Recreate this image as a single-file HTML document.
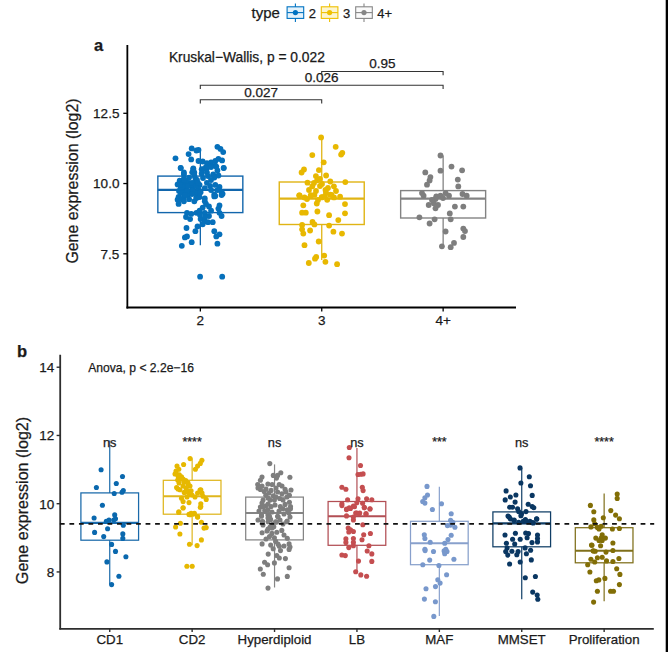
<!DOCTYPE html>
<html><head><meta charset="utf-8"><style>
html,body{margin:0;padding:0;background:#fff;}
svg{display:block;}
text{font-family:"Liberation Sans",sans-serif;stroke:#1a1a1a;stroke-width:0.25px;}
</style></head><body>
<svg width="668" height="652" viewBox="0 0 668 652">
<rect width="668" height="652" fill="#fff"/>
<text x="251.60" y="18.30" font-size="15" text-anchor="start" fill="#1a1a1a" >type</text>
<line x1="295.40" y1="3.60" x2="295.40" y2="22.00" stroke="#0073C2" stroke-width="1.1" />
<rect x="287.10" y="6.80" width="16.60" height="11.60" fill="#e4f2fb" stroke="#0073C2" stroke-width="1.1"/>
<line x1="287.10" y1="12.60" x2="303.70" y2="12.60" stroke="#0073C2" stroke-width="1.1" />
<circle cx="295.4" cy="12.6" r="2.6" fill="#0073C2"/>
<text x="308.70" y="17.90" font-size="13.0" text-anchor="start" fill="#1a1a1a" >2</text>
<line x1="329.60" y1="3.60" x2="329.60" y2="22.00" stroke="#EFC000" stroke-width="1.1" />
<rect x="321.30" y="6.80" width="16.60" height="11.60" fill="#fcf5cf" stroke="#EFC000" stroke-width="1.1"/>
<line x1="321.30" y1="12.60" x2="337.90" y2="12.60" stroke="#EFC000" stroke-width="1.1" />
<circle cx="329.6" cy="12.6" r="2.6" fill="#EFC000"/>
<text x="342.90" y="17.90" font-size="13.0" text-anchor="start" fill="#1a1a1a" >3</text>
<line x1="364.00" y1="3.60" x2="364.00" y2="22.00" stroke="#868686" stroke-width="1.1" />
<rect x="355.70" y="6.80" width="16.60" height="11.60" fill="#fafafa" stroke="#868686" stroke-width="1.1"/>
<line x1="355.70" y1="12.60" x2="372.30" y2="12.60" stroke="#868686" stroke-width="1.1" />
<circle cx="364.0" cy="12.6" r="2.6" fill="#868686"/>
<text x="377.30" y="17.90" font-size="13.0" text-anchor="start" fill="#1a1a1a" >4+</text>
<text x="94.00" y="50.50" font-size="16.5" text-anchor="start" fill="#1a1a1a" font-weight="bold">a</text>
<line x1="127.35" y1="45.00" x2="127.35" y2="308.40" stroke="#000" stroke-width="1.8" />
<line x1="126.45" y1="307.50" x2="516.00" y2="307.50" stroke="#000" stroke-width="1.8" />
<line x1="123.30" y1="113.30" x2="127.50" y2="113.30" stroke="#000" stroke-width="1.3" />
<text x="119.40" y="118.20" font-size="13.5" text-anchor="end" fill="#1a1a1a" >12.5</text>
<line x1="123.30" y1="183.55" x2="127.50" y2="183.55" stroke="#000" stroke-width="1.3" />
<text x="119.40" y="188.45" font-size="13.5" text-anchor="end" fill="#1a1a1a" >10.0</text>
<line x1="123.30" y1="253.80" x2="127.50" y2="253.80" stroke="#000" stroke-width="1.3" />
<text x="119.40" y="258.70" font-size="13.5" text-anchor="end" fill="#1a1a1a" >7.5</text>
<line x1="200.34" y1="307.50" x2="200.34" y2="311.50" stroke="#000" stroke-width="1.3" />
<text x="200.34" y="325.20" font-size="13.5" text-anchor="middle" fill="#1a1a1a" >2</text>
<line x1="321.74" y1="307.50" x2="321.74" y2="311.50" stroke="#000" stroke-width="1.3" />
<text x="321.74" y="325.20" font-size="13.5" text-anchor="middle" fill="#1a1a1a" >3</text>
<line x1="443.14" y1="307.50" x2="443.14" y2="311.50" stroke="#000" stroke-width="1.3" />
<text x="443.14" y="325.20" font-size="13.5" text-anchor="middle" fill="#1a1a1a" >4+</text>
<text transform="translate(78.0,181) rotate(-90)" font-size="15.9" text-anchor="middle" fill="#1a1a1a">Gene expression (log2)</text>
<text x="168.90" y="62.20" font-size="13.8" text-anchor="start" fill="#1a1a1a" >Kruskal−Wallis, p = 0.022</text>
<polyline points="200.3,103.5 200.3,99.7 321.7,99.7 321.7,103.5" fill="none" stroke="#333" stroke-width="1.1"/>
<text x="261.04" y="96.50" font-size="13.5" text-anchor="middle" fill="#1a1a1a" >0.027</text>
<polyline points="200.3,89.0 200.3,85.2 443.1,85.2 443.1,89.0" fill="none" stroke="#333" stroke-width="1.1"/>
<text x="321.74" y="81.80" font-size="13.5" text-anchor="middle" fill="#1a1a1a" >0.026</text>
<polyline points="321.7,75.3 321.7,71.5 443.1,71.5 443.1,75.3" fill="none" stroke="#333" stroke-width="1.1"/>
<text x="382.44" y="68.10" font-size="13.5" text-anchor="middle" fill="#1a1a1a" >0.95</text>
<line x1="200.34" y1="148.40" x2="200.34" y2="176.10" stroke="#1266AC" stroke-width="1.3" />
<line x1="200.34" y1="212.60" x2="200.34" y2="245.30" stroke="#1266AC" stroke-width="1.3" />
<rect x="157.85" y="176.10" width="84.98" height="36.50" fill="none" stroke="#1266AC" stroke-width="1.4"/>
<line x1="157.85" y1="189.90" x2="242.83" y2="189.90" stroke="#1266AC" stroke-width="2.3" />
<line x1="321.74" y1="137.40" x2="321.74" y2="182.00" stroke="#E0B414" stroke-width="1.3" />
<line x1="321.74" y1="224.50" x2="321.74" y2="260.00" stroke="#E0B414" stroke-width="1.3" />
<rect x="279.25" y="182.00" width="84.98" height="42.50" fill="none" stroke="#E0B414" stroke-width="1.4"/>
<line x1="279.25" y1="198.60" x2="364.23" y2="198.60" stroke="#E0B414" stroke-width="2.3" />
<line x1="443.14" y1="155.50" x2="443.14" y2="190.60" stroke="#838383" stroke-width="1.3" />
<line x1="443.14" y1="218.00" x2="443.14" y2="247.20" stroke="#838383" stroke-width="1.3" />
<rect x="400.65" y="190.60" width="84.98" height="27.40" fill="none" stroke="#838383" stroke-width="1.4"/>
<line x1="400.65" y1="198.70" x2="485.63" y2="198.70" stroke="#838383" stroke-width="2.3" />
<circle cx="191.7" cy="148.4" r="2.9" fill="#0670BB"/>
<circle cx="196.4" cy="150.5" r="2.9" fill="#0670BB"/>
<circle cx="198.5" cy="150.0" r="2.9" fill="#0670BB"/>
<circle cx="188.6" cy="154.1" r="2.9" fill="#0670BB"/>
<circle cx="191.2" cy="159.4" r="2.9" fill="#0670BB"/>
<circle cx="175.5" cy="158.3" r="2.9" fill="#0670BB"/>
<circle cx="217.4" cy="146.8" r="2.9" fill="#0670BB"/>
<circle cx="220.5" cy="148.9" r="2.9" fill="#0670BB"/>
<circle cx="223.2" cy="152.1" r="2.9" fill="#0670BB"/>
<circle cx="198.5" cy="161.0" r="2.9" fill="#0670BB"/>
<circle cx="202.7" cy="161.5" r="2.9" fill="#0670BB"/>
<circle cx="206.9" cy="163.1" r="2.9" fill="#0670BB"/>
<circle cx="211.1" cy="162.5" r="2.9" fill="#0670BB"/>
<circle cx="215.3" cy="161.0" r="2.9" fill="#0670BB"/>
<circle cx="218.4" cy="158.9" r="2.9" fill="#0670BB"/>
<circle cx="222.1" cy="160.4" r="2.9" fill="#0670BB"/>
<circle cx="215.3" cy="165.7" r="2.9" fill="#0670BB"/>
<circle cx="210.1" cy="166.2" r="2.9" fill="#0670BB"/>
<circle cx="205.9" cy="167.2" r="2.9" fill="#0670BB"/>
<circle cx="223.7" cy="167.8" r="2.9" fill="#0670BB"/>
<circle cx="180.7" cy="167.8" r="2.9" fill="#0670BB"/>
<circle cx="193.3" cy="168.3" r="2.9" fill="#0670BB"/>
<circle cx="201.7" cy="169.3" r="2.9" fill="#0670BB"/>
<circle cx="217.4" cy="170.4" r="2.9" fill="#0670BB"/>
<circle cx="183.9" cy="172.5" r="2.9" fill="#0670BB"/>
<circle cx="194.3" cy="172.5" r="2.9" fill="#0670BB"/>
<circle cx="180.7" cy="168.1" r="2.9" fill="#0670BB"/>
<circle cx="193.3" cy="169.2" r="2.9" fill="#0670BB"/>
<circle cx="202.7" cy="169.2" r="2.9" fill="#0670BB"/>
<circle cx="206.9" cy="168.1" r="2.9" fill="#0670BB"/>
<circle cx="211.1" cy="167.1" r="2.9" fill="#0670BB"/>
<circle cx="216.3" cy="166.6" r="2.9" fill="#0670BB"/>
<circle cx="223.7" cy="168.1" r="2.9" fill="#0670BB"/>
<circle cx="201.7" cy="173.4" r="2.9" fill="#0670BB"/>
<circle cx="206.9" cy="172.3" r="2.9" fill="#0670BB"/>
<circle cx="213.2" cy="174.4" r="2.9" fill="#0670BB"/>
<circle cx="218.4" cy="175.5" r="2.9" fill="#0670BB"/>
<circle cx="214.3" cy="177.6" r="2.9" fill="#0670BB"/>
<circle cx="183.9" cy="174.4" r="2.9" fill="#0670BB"/>
<circle cx="192.2" cy="172.3" r="2.9" fill="#0670BB"/>
<circle cx="194.3" cy="175.5" r="2.9" fill="#0670BB"/>
<circle cx="179.7" cy="180.7" r="2.9" fill="#0670BB"/>
<circle cx="183.9" cy="178.6" r="2.9" fill="#0670BB"/>
<circle cx="189.1" cy="177.6" r="2.9" fill="#0670BB"/>
<circle cx="195.4" cy="178.6" r="2.9" fill="#0670BB"/>
<circle cx="177.6" cy="184.4" r="2.9" fill="#0670BB"/>
<circle cx="182.8" cy="183.9" r="2.9" fill="#0670BB"/>
<circle cx="189.1" cy="182.8" r="2.9" fill="#0670BB"/>
<circle cx="194.3" cy="182.8" r="2.9" fill="#0670BB"/>
<circle cx="199.6" cy="184.9" r="2.9" fill="#0670BB"/>
<circle cx="206.9" cy="182.8" r="2.9" fill="#0670BB"/>
<circle cx="210.1" cy="186.0" r="2.9" fill="#0670BB"/>
<circle cx="215.3" cy="184.9" r="2.9" fill="#0670BB"/>
<circle cx="219.5" cy="187.0" r="2.9" fill="#0670BB"/>
<circle cx="180.7" cy="188.1" r="2.9" fill="#0670BB"/>
<circle cx="186.0" cy="189.1" r="2.9" fill="#0670BB"/>
<circle cx="192.2" cy="188.1" r="2.9" fill="#0670BB"/>
<circle cx="198.5" cy="189.1" r="2.9" fill="#0670BB"/>
<circle cx="204.8" cy="188.1" r="2.9" fill="#0670BB"/>
<circle cx="211.1" cy="190.1" r="2.9" fill="#0670BB"/>
<circle cx="217.4" cy="190.1" r="2.9" fill="#0670BB"/>
<circle cx="221.6" cy="192.2" r="2.9" fill="#0670BB"/>
<circle cx="183.9" cy="192.2" r="2.9" fill="#0670BB"/>
<circle cx="190.1" cy="192.2" r="2.9" fill="#0670BB"/>
<circle cx="196.4" cy="193.3" r="2.9" fill="#0670BB"/>
<circle cx="200.6" cy="192.2" r="2.9" fill="#0670BB"/>
<circle cx="214.3" cy="194.3" r="2.9" fill="#0670BB"/>
<circle cx="222.6" cy="193.8" r="2.9" fill="#0670BB"/>
<circle cx="178.6" cy="197.0" r="2.9" fill="#0670BB"/>
<circle cx="183.9" cy="197.5" r="2.9" fill="#0670BB"/>
<circle cx="196.4" cy="197.5" r="2.9" fill="#0670BB"/>
<circle cx="204.8" cy="198.5" r="2.9" fill="#0670BB"/>
<circle cx="214.3" cy="196.4" r="2.9" fill="#0670BB"/>
<circle cx="186.0" cy="181.0" r="2.9" fill="#0670BB"/>
<circle cx="191.0" cy="185.0" r="2.9" fill="#0670BB"/>
<circle cx="197.0" cy="180.0" r="2.9" fill="#0670BB"/>
<circle cx="185.0" cy="186.0" r="2.9" fill="#0670BB"/>
<circle cx="179.0" cy="191.0" r="2.9" fill="#0670BB"/>
<circle cx="188.0" cy="195.0" r="2.9" fill="#0670BB"/>
<circle cx="193.0" cy="190.0" r="2.9" fill="#0670BB"/>
<circle cx="203.0" cy="178.0" r="2.9" fill="#0670BB"/>
<circle cx="208.0" cy="176.0" r="2.9" fill="#0670BB"/>
<circle cx="211.0" cy="180.0" r="2.9" fill="#0670BB"/>
<circle cx="177.6" cy="199.7" r="2.9" fill="#0670BB"/>
<circle cx="181.8" cy="199.2" r="2.9" fill="#0670BB"/>
<circle cx="183.9" cy="201.3" r="2.9" fill="#0670BB"/>
<circle cx="178.6" cy="203.9" r="2.9" fill="#0670BB"/>
<circle cx="189.1" cy="199.2" r="2.9" fill="#0670BB"/>
<circle cx="194.3" cy="201.3" r="2.9" fill="#0670BB"/>
<circle cx="196.4" cy="198.1" r="2.9" fill="#0670BB"/>
<circle cx="199.6" cy="197.1" r="2.9" fill="#0670BB"/>
<circle cx="204.8" cy="201.3" r="2.9" fill="#0670BB"/>
<circle cx="215.3" cy="196.0" r="2.9" fill="#0670BB"/>
<circle cx="221.6" cy="195.0" r="2.9" fill="#0670BB"/>
<circle cx="219.5" cy="205.5" r="2.9" fill="#0670BB"/>
<circle cx="218.4" cy="208.6" r="2.9" fill="#0670BB"/>
<circle cx="221.6" cy="216.0" r="2.9" fill="#0670BB"/>
<circle cx="219.5" cy="212.8" r="2.9" fill="#0670BB"/>
<circle cx="202.7" cy="207.6" r="2.9" fill="#0670BB"/>
<circle cx="209.0" cy="206.5" r="2.9" fill="#0670BB"/>
<circle cx="211.1" cy="210.7" r="2.9" fill="#0670BB"/>
<circle cx="187.0" cy="212.8" r="2.9" fill="#0670BB"/>
<circle cx="191.2" cy="213.9" r="2.9" fill="#0670BB"/>
<circle cx="196.4" cy="212.8" r="2.9" fill="#0670BB"/>
<circle cx="199.6" cy="210.7" r="2.9" fill="#0670BB"/>
<circle cx="204.8" cy="212.8" r="2.9" fill="#0670BB"/>
<circle cx="209.0" cy="216.0" r="2.9" fill="#0670BB"/>
<circle cx="186.0" cy="217.0" r="2.9" fill="#0670BB"/>
<circle cx="190.1" cy="219.1" r="2.9" fill="#0670BB"/>
<circle cx="200.6" cy="219.1" r="2.9" fill="#0670BB"/>
<circle cx="204.8" cy="221.2" r="2.9" fill="#0670BB"/>
<circle cx="208.0" cy="222.2" r="2.9" fill="#0670BB"/>
<circle cx="212.7" cy="222.2" r="2.9" fill="#0670BB"/>
<circle cx="202.7" cy="224.3" r="2.9" fill="#0670BB"/>
<circle cx="197.5" cy="226.4" r="2.9" fill="#0670BB"/>
<circle cx="195.4" cy="231.2" r="2.9" fill="#0670BB"/>
<circle cx="186.5" cy="228.0" r="2.9" fill="#0670BB"/>
<circle cx="214.3" cy="231.2" r="2.9" fill="#0670BB"/>
<circle cx="219.5" cy="234.3" r="2.9" fill="#0670BB"/>
<circle cx="216.3" cy="236.4" r="2.9" fill="#0670BB"/>
<circle cx="184.9" cy="237.4" r="2.9" fill="#0670BB"/>
<circle cx="187.0" cy="236.4" r="2.9" fill="#0670BB"/>
<circle cx="191.7" cy="242.2" r="2.9" fill="#0670BB"/>
<circle cx="181.8" cy="245.8" r="2.9" fill="#0670BB"/>
<circle cx="217.4" cy="243.7" r="2.9" fill="#0670BB"/>
<circle cx="200.1" cy="276.7" r="2.9" fill="#0670BB"/>
<circle cx="222.2" cy="276.7" r="2.9" fill="#0670BB"/>
<circle cx="206.0" cy="204.0" r="2.9" fill="#0670BB"/>
<circle cx="200.0" cy="215.0" r="2.9" fill="#0670BB"/>
<circle cx="205.0" cy="217.0" r="2.9" fill="#0670BB"/>
<circle cx="184.0" cy="180.0" r="2.9" fill="#0670BB"/>
<circle cx="188.0" cy="186.0" r="2.9" fill="#0670BB"/>
<circle cx="192.0" cy="183.0" r="2.9" fill="#0670BB"/>
<circle cx="196.0" cy="186.0" r="2.9" fill="#0670BB"/>
<circle cx="182.0" cy="187.0" r="2.9" fill="#0670BB"/>
<circle cx="187.0" cy="191.0" r="2.9" fill="#0670BB"/>
<circle cx="181.0" cy="193.0" r="2.9" fill="#0670BB"/>
<circle cx="192.0" cy="194.0" r="2.9" fill="#0670BB"/>
<circle cx="198.0" cy="183.0" r="2.9" fill="#0670BB"/>
<circle cx="180.0" cy="185.0" r="2.9" fill="#0670BB"/>
<circle cx="185.0" cy="195.0" r="2.9" fill="#0670BB"/>
<circle cx="321.1" cy="137.4" r="2.9" fill="#E8B800"/>
<circle cx="335.7" cy="146.8" r="2.9" fill="#E8B800"/>
<circle cx="342.3" cy="152.8" r="2.9" fill="#E8B800"/>
<circle cx="341.1" cy="154.6" r="2.9" fill="#E8B800"/>
<circle cx="312.3" cy="155.1" r="2.9" fill="#E8B800"/>
<circle cx="323.7" cy="162.3" r="2.9" fill="#E8B800"/>
<circle cx="304.0" cy="169.5" r="2.9" fill="#E8B800"/>
<circle cx="301.6" cy="172.5" r="2.9" fill="#E8B800"/>
<circle cx="318.9" cy="170.1" r="2.9" fill="#E8B800"/>
<circle cx="315.9" cy="176.1" r="2.9" fill="#E8B800"/>
<circle cx="326.1" cy="175.5" r="2.9" fill="#E8B800"/>
<circle cx="345.3" cy="182.1" r="2.9" fill="#E8B800"/>
<circle cx="307.5" cy="182.7" r="2.9" fill="#E8B800"/>
<circle cx="312.3" cy="186.3" r="2.9" fill="#E8B800"/>
<circle cx="317.1" cy="180.3" r="2.9" fill="#E8B800"/>
<circle cx="330.3" cy="181.5" r="2.9" fill="#E8B800"/>
<circle cx="333.9" cy="186.3" r="2.9" fill="#E8B800"/>
<circle cx="325.5" cy="189.9" r="2.9" fill="#E8B800"/>
<circle cx="299.2" cy="195.3" r="2.9" fill="#E8B800"/>
<circle cx="311.1" cy="195.3" r="2.9" fill="#E8B800"/>
<circle cx="330.3" cy="194.7" r="2.9" fill="#E8B800"/>
<circle cx="321.9" cy="197.1" r="2.9" fill="#E8B800"/>
<circle cx="299.6" cy="195.5" r="2.9" fill="#E8B800"/>
<circle cx="304.5" cy="197.4" r="2.9" fill="#E8B800"/>
<circle cx="310.7" cy="195.5" r="2.9" fill="#E8B800"/>
<circle cx="314.4" cy="194.9" r="2.9" fill="#E8B800"/>
<circle cx="321.7" cy="197.4" r="2.9" fill="#E8B800"/>
<circle cx="326.0" cy="192.5" r="2.9" fill="#E8B800"/>
<circle cx="327.2" cy="199.8" r="2.9" fill="#E8B800"/>
<circle cx="331.5" cy="194.9" r="2.9" fill="#E8B800"/>
<circle cx="334.0" cy="197.4" r="2.9" fill="#E8B800"/>
<circle cx="340.1" cy="196.7" r="2.9" fill="#E8B800"/>
<circle cx="303.3" cy="205.3" r="2.9" fill="#E8B800"/>
<circle cx="316.8" cy="203.5" r="2.9" fill="#E8B800"/>
<circle cx="345.0" cy="204.1" r="2.9" fill="#E8B800"/>
<circle cx="302.1" cy="212.7" r="2.9" fill="#E8B800"/>
<circle cx="305.8" cy="212.7" r="2.9" fill="#E8B800"/>
<circle cx="317.4" cy="211.5" r="2.9" fill="#E8B800"/>
<circle cx="329.1" cy="215.2" r="2.9" fill="#E8B800"/>
<circle cx="345.0" cy="213.3" r="2.9" fill="#E8B800"/>
<circle cx="338.3" cy="220.1" r="2.9" fill="#E8B800"/>
<circle cx="312.5" cy="221.9" r="2.9" fill="#E8B800"/>
<circle cx="314.4" cy="224.4" r="2.9" fill="#E8B800"/>
<circle cx="302.1" cy="225.0" r="2.9" fill="#E8B800"/>
<circle cx="302.1" cy="229.3" r="2.9" fill="#E8B800"/>
<circle cx="303.3" cy="233.6" r="2.9" fill="#E8B800"/>
<circle cx="310.1" cy="230.5" r="2.9" fill="#E8B800"/>
<circle cx="329.1" cy="225.6" r="2.9" fill="#E8B800"/>
<circle cx="333.4" cy="231.7" r="2.9" fill="#E8B800"/>
<circle cx="342.0" cy="233.6" r="2.9" fill="#E8B800"/>
<circle cx="318.7" cy="241.5" r="2.9" fill="#E8B800"/>
<circle cx="304.5" cy="245.2" r="2.9" fill="#E8B800"/>
<circle cx="316.2" cy="256.9" r="2.9" fill="#E8B800"/>
<circle cx="315.0" cy="258.7" r="2.9" fill="#E8B800"/>
<circle cx="324.2" cy="255.6" r="2.9" fill="#E8B800"/>
<circle cx="325.4" cy="261.8" r="2.9" fill="#E8B800"/>
<circle cx="308.8" cy="263.0" r="2.9" fill="#E8B800"/>
<circle cx="337.1" cy="264.2" r="2.9" fill="#E8B800"/>
<circle cx="314.0" cy="183.0" r="2.9" fill="#E8B800"/>
<circle cx="320.0" cy="186.0" r="2.9" fill="#E8B800"/>
<circle cx="309.0" cy="190.0" r="2.9" fill="#E8B800"/>
<circle cx="316.0" cy="191.0" r="2.9" fill="#E8B800"/>
<circle cx="322.0" cy="184.0" r="2.9" fill="#E8B800"/>
<circle cx="328.0" cy="188.0" r="2.9" fill="#E8B800"/>
<circle cx="320.0" cy="179.0" r="2.9" fill="#E8B800"/>
<circle cx="336.0" cy="191.0" r="2.9" fill="#E8B800"/>
<circle cx="307.0" cy="199.0" r="2.9" fill="#E8B800"/>
<circle cx="318.0" cy="200.0" r="2.9" fill="#E8B800"/>
<circle cx="325.0" cy="196.0" r="2.9" fill="#E8B800"/>
<circle cx="440.5" cy="155.5" r="2.9" fill="#7E7E7E"/>
<circle cx="451.5" cy="166.6" r="2.9" fill="#7E7E7E"/>
<circle cx="462.1" cy="170.3" r="2.9" fill="#7E7E7E"/>
<circle cx="440.5" cy="170.7" r="2.9" fill="#7E7E7E"/>
<circle cx="425.3" cy="172.4" r="2.9" fill="#7E7E7E"/>
<circle cx="430.4" cy="177.1" r="2.9" fill="#7E7E7E"/>
<circle cx="429.6" cy="180.5" r="2.9" fill="#7E7E7E"/>
<circle cx="427.0" cy="184.7" r="2.9" fill="#7E7E7E"/>
<circle cx="457.8" cy="179.6" r="2.9" fill="#7E7E7E"/>
<circle cx="458.3" cy="186.4" r="2.9" fill="#7E7E7E"/>
<circle cx="422.0" cy="193.1" r="2.9" fill="#7E7E7E"/>
<circle cx="423.6" cy="195.7" r="2.9" fill="#7E7E7E"/>
<circle cx="436.3" cy="196.5" r="2.9" fill="#7E7E7E"/>
<circle cx="440.5" cy="195.7" r="2.9" fill="#7E7E7E"/>
<circle cx="445.6" cy="193.1" r="2.9" fill="#7E7E7E"/>
<circle cx="449.0" cy="195.7" r="2.9" fill="#7E7E7E"/>
<circle cx="462.5" cy="194.0" r="2.9" fill="#7E7E7E"/>
<circle cx="466.7" cy="195.7" r="2.9" fill="#7E7E7E"/>
<circle cx="435.5" cy="199.0" r="2.9" fill="#7E7E7E"/>
<circle cx="428.7" cy="205.0" r="2.9" fill="#7E7E7E"/>
<circle cx="433.8" cy="203.3" r="2.9" fill="#7E7E7E"/>
<circle cx="438.0" cy="205.0" r="2.9" fill="#7E7E7E"/>
<circle cx="435.5" cy="208.3" r="2.9" fill="#7E7E7E"/>
<circle cx="454.9" cy="206.6" r="2.9" fill="#7E7E7E"/>
<circle cx="463.3" cy="206.6" r="2.9" fill="#7E7E7E"/>
<circle cx="449.8" cy="213.4" r="2.9" fill="#7E7E7E"/>
<circle cx="450.7" cy="219.3" r="2.9" fill="#7E7E7E"/>
<circle cx="419.4" cy="217.3" r="2.9" fill="#7E7E7E"/>
<circle cx="434.6" cy="219.3" r="2.9" fill="#7E7E7E"/>
<circle cx="429.6" cy="223.5" r="2.9" fill="#7E7E7E"/>
<circle cx="445.6" cy="231.5" r="2.9" fill="#7E7E7E"/>
<circle cx="463.3" cy="228.6" r="2.9" fill="#7E7E7E"/>
<circle cx="465.0" cy="231.1" r="2.9" fill="#7E7E7E"/>
<circle cx="463.3" cy="237.0" r="2.9" fill="#7E7E7E"/>
<circle cx="454.0" cy="242.9" r="2.9" fill="#7E7E7E"/>
<circle cx="450.7" cy="247.2" r="2.9" fill="#7E7E7E"/>
<circle cx="441.9" cy="246.3" r="2.9" fill="#7E7E7E"/>
<circle cx="432.0" cy="200.0" r="2.9" fill="#7E7E7E"/>
<circle cx="443.0" cy="198.0" r="2.9" fill="#7E7E7E"/>
<text x="17.00" y="357.20" font-size="16.5" text-anchor="start" fill="#1a1a1a" font-weight="bold">b</text>
<line x1="60.20" y1="354.70" x2="60.20" y2="629.60" stroke="#2e2e2e" stroke-width="1.8" />
<line x1="59.30" y1="628.80" x2="653.80" y2="628.80" stroke="#2e2e2e" stroke-width="1.8" />
<line x1="56.60" y1="367.22" x2="60.20" y2="367.22" stroke="#2e2e2e" stroke-width="1.4" />
<text x="54.20" y="372.02" font-size="13.5" text-anchor="end" fill="#1a1a1a" >14</text>
<line x1="56.60" y1="435.46" x2="60.20" y2="435.46" stroke="#2e2e2e" stroke-width="1.4" />
<text x="54.20" y="440.26" font-size="13.5" text-anchor="end" fill="#1a1a1a" >12</text>
<line x1="56.60" y1="503.70" x2="60.20" y2="503.70" stroke="#2e2e2e" stroke-width="1.4" />
<text x="54.20" y="508.50" font-size="13.5" text-anchor="end" fill="#1a1a1a" >10</text>
<line x1="56.60" y1="571.94" x2="60.20" y2="571.94" stroke="#2e2e2e" stroke-width="1.4" />
<text x="54.20" y="576.74" font-size="13.5" text-anchor="end" fill="#1a1a1a" >8</text>
<text transform="translate(27.9,500.5) rotate(-90)" font-size="16.1" text-anchor="middle" fill="#1a1a1a">Gene expression (log2)</text>
<text x="88.30" y="372.20" font-size="12.1" text-anchor="start" fill="#1a1a1a" >Anova, p &lt; 2.2e−16</text>
<line x1="109.74" y1="440.40" x2="109.74" y2="492.90" stroke="#1A6AAA" stroke-width="1.2" />
<line x1="109.74" y1="540.20" x2="109.74" y2="584.10" stroke="#1A6AAA" stroke-width="1.2" />
<rect x="80.90" y="492.90" width="57.68" height="47.30" fill="none" stroke="#1A6AAA" stroke-width="1.25"/>
<line x1="80.90" y1="522.90" x2="138.58" y2="522.90" stroke="#1A6AAA" stroke-width="2.1" />
<circle cx="101.1" cy="469.7" r="2.55" fill="#0A68AE"/>
<circle cx="122.5" cy="476.5" r="2.55" fill="#0A68AE"/>
<circle cx="116.3" cy="483.5" r="2.55" fill="#0A68AE"/>
<circle cx="96.4" cy="487.5" r="2.55" fill="#0A68AE"/>
<circle cx="114.2" cy="493.5" r="2.55" fill="#0A68AE"/>
<circle cx="123.3" cy="490.6" r="2.55" fill="#0A68AE"/>
<circle cx="122.0" cy="492.2" r="2.55" fill="#0A68AE"/>
<circle cx="102.4" cy="505.2" r="2.55" fill="#0A68AE"/>
<circle cx="94.1" cy="518.0" r="2.55" fill="#0A68AE"/>
<circle cx="114.7" cy="514.9" r="2.55" fill="#0A68AE"/>
<circle cx="109.0" cy="520.1" r="2.55" fill="#0A68AE"/>
<circle cx="113.7" cy="520.1" r="2.55" fill="#0A68AE"/>
<circle cx="115.5" cy="518.8" r="2.55" fill="#0A68AE"/>
<circle cx="106.3" cy="521.4" r="2.55" fill="#0A68AE"/>
<circle cx="123.3" cy="525.3" r="2.55" fill="#0A68AE"/>
<circle cx="107.6" cy="528.7" r="2.55" fill="#0A68AE"/>
<circle cx="94.6" cy="532.4" r="2.55" fill="#0A68AE"/>
<circle cx="103.7" cy="536.6" r="2.55" fill="#0A68AE"/>
<circle cx="122.8" cy="533.9" r="2.55" fill="#0A68AE"/>
<circle cx="122.8" cy="538.4" r="2.55" fill="#0A68AE"/>
<circle cx="111.6" cy="544.4" r="2.55" fill="#0A68AE"/>
<circle cx="115.5" cy="551.4" r="2.55" fill="#0A68AE"/>
<circle cx="125.9" cy="556.7" r="2.55" fill="#0A68AE"/>
<circle cx="106.9" cy="561.9" r="2.55" fill="#0A68AE"/>
<circle cx="118.9" cy="576.3" r="2.55" fill="#0A68AE"/>
<circle cx="111.6" cy="584.6" r="2.55" fill="#0A68AE"/>
<line x1="109.74" y1="628.80" x2="109.74" y2="632.00" stroke="#2e2e2e" stroke-width="1.4" />
<text x="109.74" y="644.30" font-size="13.3" text-anchor="middle" fill="#1a1a1a" >CD1</text>
<line x1="192.14" y1="458.60" x2="192.14" y2="480.30" stroke="#DFB61E" stroke-width="1.2" />
<line x1="192.14" y1="514.20" x2="192.14" y2="545.30" stroke="#DFB61E" stroke-width="1.2" />
<rect x="163.30" y="480.30" width="57.68" height="33.90" fill="none" stroke="#DFB61E" stroke-width="1.25"/>
<line x1="163.30" y1="496.20" x2="220.98" y2="496.20" stroke="#DFB61E" stroke-width="2.1" />
<circle cx="190.1" cy="458.6" r="2.55" fill="#E6B800"/>
<circle cx="201.9" cy="460.2" r="2.55" fill="#E6B800"/>
<circle cx="200.3" cy="463.4" r="2.55" fill="#E6B800"/>
<circle cx="183.6" cy="464.5" r="2.55" fill="#E6B800"/>
<circle cx="197.6" cy="466.1" r="2.55" fill="#E6B800"/>
<circle cx="195.4" cy="469.3" r="2.55" fill="#E6B800"/>
<circle cx="178.8" cy="469.3" r="2.55" fill="#E6B800"/>
<circle cx="176.1" cy="473.1" r="2.55" fill="#E6B800"/>
<circle cx="179.3" cy="474.7" r="2.55" fill="#E6B800"/>
<circle cx="181.5" cy="476.9" r="2.55" fill="#E6B800"/>
<circle cx="183.1" cy="479.0" r="2.55" fill="#E6B800"/>
<circle cx="185.8" cy="480.6" r="2.55" fill="#E6B800"/>
<circle cx="187.9" cy="482.8" r="2.55" fill="#E6B800"/>
<circle cx="177.7" cy="480.1" r="2.55" fill="#E6B800"/>
<circle cx="176.6" cy="487.6" r="2.55" fill="#E6B800"/>
<circle cx="179.9" cy="489.7" r="2.55" fill="#E6B800"/>
<circle cx="184.2" cy="492.4" r="2.55" fill="#E6B800"/>
<circle cx="187.9" cy="490.8" r="2.55" fill="#E6B800"/>
<circle cx="191.1" cy="490.8" r="2.55" fill="#E6B800"/>
<circle cx="189.5" cy="494.0" r="2.55" fill="#E6B800"/>
<circle cx="200.8" cy="489.7" r="2.55" fill="#E6B800"/>
<circle cx="197.6" cy="493.0" r="2.55" fill="#E6B800"/>
<circle cx="203.0" cy="496.2" r="2.55" fill="#E6B800"/>
<circle cx="206.2" cy="499.4" r="2.55" fill="#E6B800"/>
<circle cx="181.5" cy="498.3" r="2.55" fill="#E6B800"/>
<circle cx="183.1" cy="501.6" r="2.55" fill="#E6B800"/>
<circle cx="189.0" cy="502.6" r="2.55" fill="#E6B800"/>
<circle cx="200.8" cy="503.7" r="2.55" fill="#E6B800"/>
<circle cx="200.3" cy="507.5" r="2.55" fill="#E6B800"/>
<circle cx="183.1" cy="508.0" r="2.55" fill="#E6B800"/>
<circle cx="178.8" cy="511.8" r="2.55" fill="#E6B800"/>
<circle cx="191.1" cy="513.4" r="2.55" fill="#E6B800"/>
<circle cx="194.4" cy="513.4" r="2.55" fill="#E6B800"/>
<circle cx="197.6" cy="517.1" r="2.55" fill="#E6B800"/>
<circle cx="189.0" cy="514.4" r="2.55" fill="#E6B800"/>
<circle cx="183.1" cy="507.7" r="2.55" fill="#E6B800"/>
<circle cx="200.8" cy="506.6" r="2.55" fill="#E6B800"/>
<circle cx="178.8" cy="512.5" r="2.55" fill="#E6B800"/>
<circle cx="190.1" cy="514.7" r="2.55" fill="#E6B800"/>
<circle cx="193.3" cy="514.1" r="2.55" fill="#E6B800"/>
<circle cx="197.6" cy="516.8" r="2.55" fill="#E6B800"/>
<circle cx="180.4" cy="523.3" r="2.55" fill="#E6B800"/>
<circle cx="175.6" cy="527.0" r="2.55" fill="#E6B800"/>
<circle cx="201.4" cy="522.2" r="2.55" fill="#E6B800"/>
<circle cx="204.0" cy="528.1" r="2.55" fill="#E6B800"/>
<circle cx="206.2" cy="527.6" r="2.55" fill="#E6B800"/>
<circle cx="179.9" cy="534.0" r="2.55" fill="#E6B800"/>
<circle cx="201.4" cy="539.9" r="2.55" fill="#E6B800"/>
<circle cx="189.5" cy="544.2" r="2.55" fill="#E6B800"/>
<circle cx="197.1" cy="545.6" r="2.55" fill="#E6B800"/>
<circle cx="186.9" cy="566.2" r="2.55" fill="#E6B800"/>
<circle cx="192.2" cy="566.2" r="2.55" fill="#E6B800"/>
<circle cx="176.0" cy="471.0" r="2.55" fill="#E6B800"/>
<circle cx="178.0" cy="476.0" r="2.55" fill="#E6B800"/>
<circle cx="181.0" cy="479.0" r="2.55" fill="#E6B800"/>
<circle cx="184.0" cy="482.0" r="2.55" fill="#E6B800"/>
<circle cx="188.0" cy="484.0" r="2.55" fill="#E6B800"/>
<circle cx="190.0" cy="486.0" r="2.55" fill="#E6B800"/>
<circle cx="179.0" cy="483.0" r="2.55" fill="#E6B800"/>
<circle cx="183.0" cy="486.0" r="2.55" fill="#E6B800"/>
<circle cx="186.0" cy="488.0" r="2.55" fill="#E6B800"/>
<circle cx="177.0" cy="466.0" r="2.55" fill="#E6B800"/>
<circle cx="175.0" cy="474.0" r="2.55" fill="#E6B800"/>
<circle cx="178.0" cy="489.0" r="2.55" fill="#E6B800"/>
<circle cx="186.0" cy="492.0" r="2.55" fill="#E6B800"/>
<circle cx="192.0" cy="495.0" r="2.55" fill="#E6B800"/>
<circle cx="200.0" cy="490.0" r="2.55" fill="#E6B800"/>
<circle cx="195.0" cy="497.0" r="2.55" fill="#E6B800"/>
<circle cx="187.0" cy="497.0" r="2.55" fill="#E6B800"/>
<circle cx="202.0" cy="493.0" r="2.55" fill="#E6B800"/>
<line x1="192.14" y1="628.80" x2="192.14" y2="632.00" stroke="#2e2e2e" stroke-width="1.4" />
<text x="192.14" y="644.30" font-size="13.3" text-anchor="middle" fill="#1a1a1a" >CD2</text>
<line x1="274.54" y1="464.40" x2="274.54" y2="497.10" stroke="#858585" stroke-width="1.2" />
<line x1="274.54" y1="539.90" x2="274.54" y2="587.50" stroke="#858585" stroke-width="1.2" />
<rect x="245.70" y="497.10" width="57.68" height="42.80" fill="none" stroke="#858585" stroke-width="1.25"/>
<line x1="245.70" y1="513.00" x2="303.38" y2="513.00" stroke="#858585" stroke-width="2.1" />
<circle cx="269.8" cy="463.6" r="2.55" fill="#7E7E7E"/>
<circle cx="280.8" cy="472.7" r="2.55" fill="#7E7E7E"/>
<circle cx="277.6" cy="475.4" r="2.55" fill="#7E7E7E"/>
<circle cx="273.3" cy="475.4" r="2.55" fill="#7E7E7E"/>
<circle cx="276.5" cy="478.1" r="2.55" fill="#7E7E7E"/>
<circle cx="289.9" cy="477.3" r="2.55" fill="#7E7E7E"/>
<circle cx="262.0" cy="477.0" r="2.55" fill="#7E7E7E"/>
<circle cx="260.4" cy="480.2" r="2.55" fill="#7E7E7E"/>
<circle cx="257.7" cy="484.5" r="2.55" fill="#7E7E7E"/>
<circle cx="267.9" cy="484.0" r="2.55" fill="#7E7E7E"/>
<circle cx="272.2" cy="484.5" r="2.55" fill="#7E7E7E"/>
<circle cx="279.2" cy="484.5" r="2.55" fill="#7E7E7E"/>
<circle cx="260.4" cy="489.4" r="2.55" fill="#7E7E7E"/>
<circle cx="264.2" cy="491.5" r="2.55" fill="#7E7E7E"/>
<circle cx="271.1" cy="490.4" r="2.55" fill="#7E7E7E"/>
<circle cx="277.6" cy="492.0" r="2.55" fill="#7E7E7E"/>
<circle cx="285.1" cy="489.4" r="2.55" fill="#7E7E7E"/>
<circle cx="281.9" cy="493.7" r="2.55" fill="#7E7E7E"/>
<circle cx="289.4" cy="495.3" r="2.55" fill="#7E7E7E"/>
<circle cx="265.8" cy="495.3" r="2.55" fill="#7E7E7E"/>
<circle cx="273.3" cy="495.8" r="2.55" fill="#7E7E7E"/>
<circle cx="279.7" cy="498.5" r="2.55" fill="#7E7E7E"/>
<circle cx="263.1" cy="500.1" r="2.55" fill="#7E7E7E"/>
<circle cx="270.1" cy="500.1" r="2.55" fill="#7E7E7E"/>
<circle cx="274.4" cy="500.1" r="2.55" fill="#7E7E7E"/>
<circle cx="289.4" cy="502.2" r="2.55" fill="#7E7E7E"/>
<circle cx="285.1" cy="504.4" r="2.55" fill="#7E7E7E"/>
<circle cx="280.3" cy="506.5" r="2.55" fill="#7E7E7E"/>
<circle cx="290.5" cy="506.5" r="2.55" fill="#7E7E7E"/>
<circle cx="260.4" cy="507.1" r="2.55" fill="#7E7E7E"/>
<circle cx="265.8" cy="506.0" r="2.55" fill="#7E7E7E"/>
<circle cx="271.1" cy="506.5" r="2.55" fill="#7E7E7E"/>
<circle cx="282.9" cy="508.7" r="2.55" fill="#7E7E7E"/>
<circle cx="287.2" cy="509.8" r="2.55" fill="#7E7E7E"/>
<circle cx="290.5" cy="508.7" r="2.55" fill="#7E7E7E"/>
<circle cx="264.7" cy="510.8" r="2.55" fill="#7E7E7E"/>
<circle cx="267.9" cy="509.8" r="2.55" fill="#7E7E7E"/>
<circle cx="261.5" cy="515.1" r="2.55" fill="#7E7E7E"/>
<circle cx="267.9" cy="515.1" r="2.55" fill="#7E7E7E"/>
<circle cx="277.6" cy="516.2" r="2.55" fill="#7E7E7E"/>
<circle cx="270.6" cy="519.4" r="2.55" fill="#7E7E7E"/>
<circle cx="262.5" cy="521.6" r="2.55" fill="#7E7E7E"/>
<circle cx="276.5" cy="522.1" r="2.55" fill="#7E7E7E"/>
<circle cx="287.2" cy="521.0" r="2.55" fill="#7E7E7E"/>
<circle cx="261.5" cy="516.2" r="2.55" fill="#7E7E7E"/>
<circle cx="269.5" cy="516.2" r="2.55" fill="#7E7E7E"/>
<circle cx="278.1" cy="516.8" r="2.55" fill="#7E7E7E"/>
<circle cx="262.7" cy="521.8" r="2.55" fill="#7E7E7E"/>
<circle cx="268.2" cy="521.8" r="2.55" fill="#7E7E7E"/>
<circle cx="275.6" cy="521.8" r="2.55" fill="#7E7E7E"/>
<circle cx="286.7" cy="521.8" r="2.55" fill="#7E7E7E"/>
<circle cx="273.8" cy="526.7" r="2.55" fill="#7E7E7E"/>
<circle cx="262.1" cy="532.8" r="2.55" fill="#7E7E7E"/>
<circle cx="267.0" cy="531.0" r="2.55" fill="#7E7E7E"/>
<circle cx="271.9" cy="533.4" r="2.55" fill="#7E7E7E"/>
<circle cx="276.8" cy="532.2" r="2.55" fill="#7E7E7E"/>
<circle cx="281.8" cy="530.4" r="2.55" fill="#7E7E7E"/>
<circle cx="269.5" cy="536.5" r="2.55" fill="#7E7E7E"/>
<circle cx="274.4" cy="537.7" r="2.55" fill="#7E7E7E"/>
<circle cx="287.3" cy="538.3" r="2.55" fill="#7E7E7E"/>
<circle cx="262.1" cy="543.9" r="2.55" fill="#7E7E7E"/>
<circle cx="270.7" cy="545.1" r="2.55" fill="#7E7E7E"/>
<circle cx="275.6" cy="541.4" r="2.55" fill="#7E7E7E"/>
<circle cx="289.1" cy="543.9" r="2.55" fill="#7E7E7E"/>
<circle cx="279.3" cy="546.3" r="2.55" fill="#7E7E7E"/>
<circle cx="273.2" cy="548.8" r="2.55" fill="#7E7E7E"/>
<circle cx="280.5" cy="550.6" r="2.55" fill="#7E7E7E"/>
<circle cx="289.1" cy="549.4" r="2.55" fill="#7E7E7E"/>
<circle cx="268.2" cy="554.1" r="2.55" fill="#7E7E7E"/>
<circle cx="276.8" cy="555.5" r="2.55" fill="#7E7E7E"/>
<circle cx="279.3" cy="558.0" r="2.55" fill="#7E7E7E"/>
<circle cx="285.4" cy="558.6" r="2.55" fill="#7E7E7E"/>
<circle cx="264.6" cy="562.3" r="2.55" fill="#7E7E7E"/>
<circle cx="267.6" cy="564.7" r="2.55" fill="#7E7E7E"/>
<circle cx="274.4" cy="562.9" r="2.55" fill="#7E7E7E"/>
<circle cx="260.3" cy="569.0" r="2.55" fill="#7E7E7E"/>
<circle cx="289.1" cy="567.8" r="2.55" fill="#7E7E7E"/>
<circle cx="263.3" cy="574.2" r="2.55" fill="#7E7E7E"/>
<circle cx="287.3" cy="576.4" r="2.55" fill="#7E7E7E"/>
<circle cx="277.5" cy="578.9" r="2.55" fill="#7E7E7E"/>
<circle cx="268.0" cy="588.1" r="2.55" fill="#7E7E7E"/>
<circle cx="268.0" cy="529.0" r="2.55" fill="#7E7E7E"/>
<circle cx="272.0" cy="528.0" r="2.55" fill="#7E7E7E"/>
<circle cx="284.0" cy="535.0" r="2.55" fill="#7E7E7E"/>
<circle cx="266.0" cy="539.0" r="2.55" fill="#7E7E7E"/>
<circle cx="278.0" cy="544.0" r="2.55" fill="#7E7E7E"/>
<circle cx="284.0" cy="546.0" r="2.55" fill="#7E7E7E"/>
<circle cx="270.0" cy="527.0" r="2.55" fill="#7E7E7E"/>
<circle cx="290.0" cy="547.0" r="2.55" fill="#7E7E7E"/>
<circle cx="258.0" cy="488.0" r="2.55" fill="#7E7E7E"/>
<circle cx="262.0" cy="486.0" r="2.55" fill="#7E7E7E"/>
<circle cx="266.0" cy="489.0" r="2.55" fill="#7E7E7E"/>
<circle cx="269.0" cy="493.0" r="2.55" fill="#7E7E7E"/>
<circle cx="276.0" cy="488.0" r="2.55" fill="#7E7E7E"/>
<circle cx="282.0" cy="486.0" r="2.55" fill="#7E7E7E"/>
<circle cx="286.0" cy="492.0" r="2.55" fill="#7E7E7E"/>
<circle cx="291.0" cy="490.0" r="2.55" fill="#7E7E7E"/>
<circle cx="268.0" cy="498.0" r="2.55" fill="#7E7E7E"/>
<circle cx="276.0" cy="497.0" r="2.55" fill="#7E7E7E"/>
<circle cx="283.0" cy="500.0" r="2.55" fill="#7E7E7E"/>
<circle cx="287.0" cy="497.0" r="2.55" fill="#7E7E7E"/>
<circle cx="262.0" cy="503.0" r="2.55" fill="#7E7E7E"/>
<circle cx="268.0" cy="504.0" r="2.55" fill="#7E7E7E"/>
<circle cx="275.0" cy="505.0" r="2.55" fill="#7E7E7E"/>
<circle cx="279.0" cy="511.0" r="2.55" fill="#7E7E7E"/>
<circle cx="284.0" cy="514.0" r="2.55" fill="#7E7E7E"/>
<circle cx="289.0" cy="513.0" r="2.55" fill="#7E7E7E"/>
<circle cx="259.0" cy="511.0" r="2.55" fill="#7E7E7E"/>
<circle cx="263.0" cy="507.0" r="2.55" fill="#7E7E7E"/>
<circle cx="272.0" cy="512.0" r="2.55" fill="#7E7E7E"/>
<circle cx="268.0" cy="518.0" r="2.55" fill="#7E7E7E"/>
<circle cx="280.0" cy="520.0" r="2.55" fill="#7E7E7E"/>
<circle cx="290.0" cy="517.0" r="2.55" fill="#7E7E7E"/>
<circle cx="263.0" cy="525.0" r="2.55" fill="#7E7E7E"/>
<circle cx="273.0" cy="524.0" r="2.55" fill="#7E7E7E"/>
<circle cx="258.0" cy="520.0" r="2.55" fill="#7E7E7E"/>
<circle cx="283.0" cy="524.0" r="2.55" fill="#7E7E7E"/>
<line x1="274.54" y1="628.80" x2="274.54" y2="632.00" stroke="#2e2e2e" stroke-width="1.4" />
<text x="274.54" y="644.30" font-size="13.3" text-anchor="middle" fill="#1a1a1a" >Hyperdiploid</text>
<line x1="356.94" y1="448.10" x2="356.94" y2="501.50" stroke="#B24E54" stroke-width="1.2" />
<line x1="356.94" y1="545.30" x2="356.94" y2="572.90" stroke="#B24E54" stroke-width="1.2" />
<rect x="328.10" y="501.50" width="57.68" height="43.80" fill="none" stroke="#B24E54" stroke-width="1.25"/>
<line x1="328.10" y1="516.30" x2="385.78" y2="516.30" stroke="#B24E54" stroke-width="2.1" />
<circle cx="349.3" cy="447.5" r="2.55" fill="#C44E50"/>
<circle cx="349.0" cy="457.8" r="2.55" fill="#C44E50"/>
<circle cx="360.5" cy="465.5" r="2.55" fill="#C44E50"/>
<circle cx="358.0" cy="474.5" r="2.55" fill="#C44E50"/>
<circle cx="360.8" cy="474.3" r="2.55" fill="#C44E50"/>
<circle cx="363.1" cy="473.9" r="2.55" fill="#C44E50"/>
<circle cx="341.9" cy="487.2" r="2.55" fill="#C44E50"/>
<circle cx="345.9" cy="489.2" r="2.55" fill="#C44E50"/>
<circle cx="362.3" cy="487.2" r="2.55" fill="#C44E50"/>
<circle cx="363.1" cy="490.6" r="2.55" fill="#C44E50"/>
<circle cx="347.6" cy="499.8" r="2.55" fill="#C44E50"/>
<circle cx="358.0" cy="498.7" r="2.55" fill="#C44E50"/>
<circle cx="366.6" cy="498.7" r="2.55" fill="#C44E50"/>
<circle cx="371.8" cy="499.8" r="2.55" fill="#C44E50"/>
<circle cx="341.9" cy="503.8" r="2.55" fill="#C44E50"/>
<circle cx="356.8" cy="502.7" r="2.55" fill="#C44E50"/>
<circle cx="362.6" cy="503.3" r="2.55" fill="#C44E50"/>
<circle cx="353.4" cy="506.1" r="2.55" fill="#C44E50"/>
<circle cx="349.3" cy="507.9" r="2.55" fill="#C44E50"/>
<circle cx="346.5" cy="509.6" r="2.55" fill="#C44E50"/>
<circle cx="364.3" cy="507.9" r="2.55" fill="#C44E50"/>
<circle cx="370.0" cy="508.8" r="2.55" fill="#C44E50"/>
<circle cx="356.8" cy="513.0" r="2.55" fill="#C44E50"/>
<circle cx="359.7" cy="513.0" r="2.55" fill="#C44E50"/>
<circle cx="366.0" cy="513.6" r="2.55" fill="#C44E50"/>
<circle cx="341.9" cy="505.6" r="2.55" fill="#C44E50"/>
<circle cx="346.5" cy="509.0" r="2.55" fill="#C44E50"/>
<circle cx="350.5" cy="508.5" r="2.55" fill="#C44E50"/>
<circle cx="354.5" cy="506.7" r="2.55" fill="#C44E50"/>
<circle cx="364.3" cy="507.3" r="2.55" fill="#C44E50"/>
<circle cx="370.0" cy="509.0" r="2.55" fill="#C44E50"/>
<circle cx="355.7" cy="513.1" r="2.55" fill="#C44E50"/>
<circle cx="359.1" cy="513.6" r="2.55" fill="#C44E50"/>
<circle cx="366.0" cy="514.2" r="2.55" fill="#C44E50"/>
<circle cx="346.5" cy="515.9" r="2.55" fill="#C44E50"/>
<circle cx="353.4" cy="517.1" r="2.55" fill="#C44E50"/>
<circle cx="353.4" cy="520.0" r="2.55" fill="#C44E50"/>
<circle cx="362.8" cy="524.8" r="2.55" fill="#C44E50"/>
<circle cx="348.2" cy="528.0" r="2.55" fill="#C44E50"/>
<circle cx="350.5" cy="529.7" r="2.55" fill="#C44E50"/>
<circle cx="353.4" cy="531.5" r="2.55" fill="#C44E50"/>
<circle cx="348.8" cy="532.0" r="2.55" fill="#C44E50"/>
<circle cx="363.7" cy="534.7" r="2.55" fill="#C44E50"/>
<circle cx="370.4" cy="533.5" r="2.55" fill="#C44E50"/>
<circle cx="345.9" cy="538.9" r="2.55" fill="#C44E50"/>
<circle cx="353.4" cy="538.6" r="2.55" fill="#C44E50"/>
<circle cx="362.0" cy="539.7" r="2.55" fill="#C44E50"/>
<circle cx="345.9" cy="542.4" r="2.55" fill="#C44E50"/>
<circle cx="353.4" cy="542.4" r="2.55" fill="#C44E50"/>
<circle cx="348.8" cy="547.6" r="2.55" fill="#C44E50"/>
<circle cx="353.4" cy="545.8" r="2.55" fill="#C44E50"/>
<circle cx="368.9" cy="545.8" r="2.55" fill="#C44E50"/>
<circle cx="367.2" cy="551.0" r="2.55" fill="#C44E50"/>
<circle cx="371.8" cy="553.9" r="2.55" fill="#C44E50"/>
<circle cx="341.9" cy="555.0" r="2.55" fill="#C44E50"/>
<circle cx="345.3" cy="555.6" r="2.55" fill="#C44E50"/>
<circle cx="358.5" cy="561.1" r="2.55" fill="#C44E50"/>
<circle cx="371.8" cy="561.4" r="2.55" fill="#C44E50"/>
<circle cx="355.7" cy="571.7" r="2.55" fill="#C44E50"/>
<circle cx="360.8" cy="574.9" r="2.55" fill="#C44E50"/>
<circle cx="366.6" cy="576.3" r="2.55" fill="#C44E50"/>
<line x1="356.94" y1="628.80" x2="356.94" y2="632.00" stroke="#2e2e2e" stroke-width="1.4" />
<text x="356.94" y="644.30" font-size="13.3" text-anchor="middle" fill="#1a1a1a" >LB</text>
<line x1="439.34" y1="486.70" x2="439.34" y2="521.30" stroke="#88A0CC" stroke-width="1.2" />
<line x1="439.34" y1="564.70" x2="439.34" y2="615.90" stroke="#88A0CC" stroke-width="1.2" />
<rect x="410.50" y="521.30" width="57.68" height="43.40" fill="none" stroke="#88A0CC" stroke-width="1.25"/>
<line x1="410.50" y1="543.20" x2="468.18" y2="543.20" stroke="#88A0CC" stroke-width="2.1" />
<circle cx="427.0" cy="486.4" r="2.55" fill="#7898CC"/>
<circle cx="427.5" cy="495.0" r="2.55" fill="#7898CC"/>
<circle cx="424.9" cy="497.7" r="2.55" fill="#7898CC"/>
<circle cx="422.7" cy="501.5" r="2.55" fill="#7898CC"/>
<circle cx="424.9" cy="503.1" r="2.55" fill="#7898CC"/>
<circle cx="441.5" cy="503.8" r="2.55" fill="#7898CC"/>
<circle cx="432.4" cy="509.5" r="2.55" fill="#7898CC"/>
<circle cx="451.2" cy="513.8" r="2.55" fill="#7898CC"/>
<circle cx="450.6" cy="520.3" r="2.55" fill="#7898CC"/>
<circle cx="452.8" cy="522.4" r="2.55" fill="#7898CC"/>
<circle cx="447.4" cy="525.6" r="2.55" fill="#7898CC"/>
<circle cx="450.6" cy="525.1" r="2.55" fill="#7898CC"/>
<circle cx="454.9" cy="527.2" r="2.55" fill="#7898CC"/>
<circle cx="424.3" cy="534.8" r="2.55" fill="#7898CC"/>
<circle cx="424.9" cy="538.5" r="2.55" fill="#7898CC"/>
<circle cx="451.2" cy="535.3" r="2.55" fill="#7898CC"/>
<circle cx="448.0" cy="539.6" r="2.55" fill="#7898CC"/>
<circle cx="430.2" cy="542.3" r="2.55" fill="#7898CC"/>
<circle cx="444.7" cy="543.3" r="2.55" fill="#7898CC"/>
<circle cx="424.9" cy="549.3" r="2.55" fill="#7898CC"/>
<circle cx="445.8" cy="549.3" r="2.55" fill="#7898CC"/>
<circle cx="425.1" cy="550.6" r="2.55" fill="#7898CC"/>
<circle cx="433.5" cy="551.5" r="2.55" fill="#7898CC"/>
<circle cx="444.1" cy="550.9" r="2.55" fill="#7898CC"/>
<circle cx="447.0" cy="551.5" r="2.55" fill="#7898CC"/>
<circle cx="444.7" cy="553.8" r="2.55" fill="#7898CC"/>
<circle cx="429.7" cy="560.1" r="2.55" fill="#7898CC"/>
<circle cx="453.9" cy="559.3" r="2.55" fill="#7898CC"/>
<circle cx="422.8" cy="564.7" r="2.55" fill="#7898CC"/>
<circle cx="438.9" cy="565.5" r="2.55" fill="#7898CC"/>
<circle cx="446.6" cy="574.7" r="2.55" fill="#7898CC"/>
<circle cx="437.8" cy="579.7" r="2.55" fill="#7898CC"/>
<circle cx="440.1" cy="583.1" r="2.55" fill="#7898CC"/>
<circle cx="435.5" cy="586.6" r="2.55" fill="#7898CC"/>
<circle cx="426.0" cy="588.7" r="2.55" fill="#7898CC"/>
<circle cx="424.4" cy="599.1" r="2.55" fill="#7898CC"/>
<circle cx="435.4" cy="601.8" r="2.55" fill="#7898CC"/>
<circle cx="433.8" cy="616.4" r="2.55" fill="#7898CC"/>
<line x1="439.34" y1="628.80" x2="439.34" y2="632.00" stroke="#2e2e2e" stroke-width="1.4" />
<text x="439.34" y="644.30" font-size="13.3" text-anchor="middle" fill="#1a1a1a" >MAF</text>
<line x1="521.74" y1="467.90" x2="521.74" y2="511.90" stroke="#103E66" stroke-width="1.2" />
<line x1="521.74" y1="546.80" x2="521.74" y2="599.30" stroke="#103E66" stroke-width="1.2" />
<rect x="492.90" y="511.90" width="57.68" height="34.90" fill="none" stroke="#103E66" stroke-width="1.25"/>
<line x1="492.90" y1="523.40" x2="550.58" y2="523.40" stroke="#103E66" stroke-width="2.1" />
<circle cx="520.0" cy="467.9" r="2.55" fill="#0A3762"/>
<circle cx="529.3" cy="476.8" r="2.55" fill="#0A3762"/>
<circle cx="520.9" cy="483.0" r="2.55" fill="#0A3762"/>
<circle cx="530.5" cy="485.8" r="2.55" fill="#0A3762"/>
<circle cx="506.1" cy="490.9" r="2.55" fill="#0A3762"/>
<circle cx="515.9" cy="495.0" r="2.55" fill="#0A3762"/>
<circle cx="510.3" cy="497.0" r="2.55" fill="#0A3762"/>
<circle cx="532.2" cy="495.4" r="2.55" fill="#0A3762"/>
<circle cx="505.2" cy="499.9" r="2.55" fill="#0A3762"/>
<circle cx="515.1" cy="502.1" r="2.55" fill="#0A3762"/>
<circle cx="528.2" cy="504.3" r="2.55" fill="#0A3762"/>
<circle cx="509.7" cy="507.2" r="2.55" fill="#0A3762"/>
<circle cx="512.5" cy="507.2" r="2.55" fill="#0A3762"/>
<circle cx="517.6" cy="508.8" r="2.55" fill="#0A3762"/>
<circle cx="532.2" cy="506.6" r="2.55" fill="#0A3762"/>
<circle cx="533.8" cy="507.7" r="2.55" fill="#0A3762"/>
<circle cx="518.7" cy="511.6" r="2.55" fill="#0A3762"/>
<circle cx="521.5" cy="513.9" r="2.55" fill="#0A3762"/>
<circle cx="526.0" cy="511.6" r="2.55" fill="#0A3762"/>
<circle cx="508.0" cy="516.1" r="2.55" fill="#0A3762"/>
<circle cx="510.3" cy="518.9" r="2.55" fill="#0A3762"/>
<circle cx="514.2" cy="520.1" r="2.55" fill="#0A3762"/>
<circle cx="518.7" cy="522.3" r="2.55" fill="#0A3762"/>
<circle cx="523.2" cy="521.2" r="2.55" fill="#0A3762"/>
<circle cx="525.4" cy="519.5" r="2.55" fill="#0A3762"/>
<circle cx="529.9" cy="521.2" r="2.55" fill="#0A3762"/>
<circle cx="536.6" cy="518.9" r="2.55" fill="#0A3762"/>
<circle cx="533.3" cy="522.9" r="2.55" fill="#0A3762"/>
<circle cx="509.2" cy="517.1" r="2.55" fill="#0A3762"/>
<circle cx="514.0" cy="520.5" r="2.55" fill="#0A3762"/>
<circle cx="520.9" cy="515.7" r="2.55" fill="#0A3762"/>
<circle cx="526.4" cy="521.2" r="2.55" fill="#0A3762"/>
<circle cx="532.0" cy="522.6" r="2.55" fill="#0A3762"/>
<circle cx="536.8" cy="519.1" r="2.55" fill="#0A3762"/>
<circle cx="505.0" cy="535.0" r="2.55" fill="#0A3762"/>
<circle cx="515.4" cy="533.2" r="2.55" fill="#0A3762"/>
<circle cx="525.7" cy="533.0" r="2.55" fill="#0A3762"/>
<circle cx="528.5" cy="533.6" r="2.55" fill="#0A3762"/>
<circle cx="512.6" cy="539.2" r="2.55" fill="#0A3762"/>
<circle cx="520.2" cy="539.2" r="2.55" fill="#0A3762"/>
<circle cx="527.1" cy="537.8" r="2.55" fill="#0A3762"/>
<circle cx="537.5" cy="535.0" r="2.55" fill="#0A3762"/>
<circle cx="537.5" cy="538.5" r="2.55" fill="#0A3762"/>
<circle cx="537.5" cy="541.9" r="2.55" fill="#0A3762"/>
<circle cx="532.0" cy="542.6" r="2.55" fill="#0A3762"/>
<circle cx="506.4" cy="543.3" r="2.55" fill="#0A3762"/>
<circle cx="514.7" cy="544.0" r="2.55" fill="#0A3762"/>
<circle cx="507.1" cy="548.1" r="2.55" fill="#0A3762"/>
<circle cx="525.1" cy="547.9" r="2.55" fill="#0A3762"/>
<circle cx="505.7" cy="551.6" r="2.55" fill="#0A3762"/>
<circle cx="511.9" cy="551.2" r="2.55" fill="#0A3762"/>
<circle cx="518.1" cy="551.6" r="2.55" fill="#0A3762"/>
<circle cx="530.6" cy="550.2" r="2.55" fill="#0A3762"/>
<circle cx="507.8" cy="555.1" r="2.55" fill="#0A3762"/>
<circle cx="516.8" cy="554.8" r="2.55" fill="#0A3762"/>
<circle cx="526.4" cy="553.7" r="2.55" fill="#0A3762"/>
<circle cx="531.3" cy="559.9" r="2.55" fill="#0A3762"/>
<circle cx="520.2" cy="562.0" r="2.55" fill="#0A3762"/>
<circle cx="509.6" cy="564.0" r="2.55" fill="#0A3762"/>
<circle cx="525.3" cy="577.8" r="2.55" fill="#0A3762"/>
<circle cx="535.4" cy="576.5" r="2.55" fill="#0A3762"/>
<circle cx="532.7" cy="592.1" r="2.55" fill="#0A3762"/>
<circle cx="537.2" cy="595.1" r="2.55" fill="#0A3762"/>
<circle cx="537.8" cy="599.3" r="2.55" fill="#0A3762"/>
<line x1="521.74" y1="628.80" x2="521.74" y2="632.00" stroke="#2e2e2e" stroke-width="1.4" />
<text x="521.74" y="644.30" font-size="13.3" text-anchor="middle" fill="#1a1a1a" >MMSET</text>
<line x1="604.14" y1="493.60" x2="604.14" y2="527.70" stroke="#7F6F1A" stroke-width="1.2" />
<line x1="604.14" y1="562.80" x2="604.14" y2="601.20" stroke="#7F6F1A" stroke-width="1.2" />
<rect x="575.30" y="527.70" width="57.68" height="35.10" fill="none" stroke="#7F6F1A" stroke-width="1.25"/>
<line x1="575.30" y1="550.70" x2="632.98" y2="550.70" stroke="#7F6F1A" stroke-width="2.1" />
<circle cx="617.2" cy="494.1" r="2.55" fill="#826E06"/>
<circle cx="617.2" cy="498.4" r="2.55" fill="#826E06"/>
<circle cx="590.4" cy="505.4" r="2.55" fill="#826E06"/>
<circle cx="593.8" cy="511.8" r="2.55" fill="#826E06"/>
<circle cx="610.8" cy="510.6" r="2.55" fill="#826E06"/>
<circle cx="615.6" cy="515.1" r="2.55" fill="#826E06"/>
<circle cx="619.4" cy="518.8" r="2.55" fill="#826E06"/>
<circle cx="593.8" cy="519.9" r="2.55" fill="#826E06"/>
<circle cx="603.3" cy="517.7" r="2.55" fill="#826E06"/>
<circle cx="594.7" cy="523.7" r="2.55" fill="#826E06"/>
<circle cx="590.9" cy="526.9" r="2.55" fill="#826E06"/>
<circle cx="597.4" cy="527.4" r="2.55" fill="#826E06"/>
<circle cx="601.1" cy="526.3" r="2.55" fill="#826E06"/>
<circle cx="599.0" cy="529.0" r="2.55" fill="#826E06"/>
<circle cx="612.4" cy="529.0" r="2.55" fill="#826E06"/>
<circle cx="619.4" cy="528.5" r="2.55" fill="#826E06"/>
<circle cx="602.2" cy="534.9" r="2.55" fill="#826E06"/>
<circle cx="595.8" cy="538.1" r="2.55" fill="#826E06"/>
<circle cx="601.1" cy="538.1" r="2.55" fill="#826E06"/>
<circle cx="605.4" cy="538.1" r="2.55" fill="#826E06"/>
<circle cx="612.9" cy="543.0" r="2.55" fill="#826E06"/>
<circle cx="591.5" cy="545.1" r="2.55" fill="#826E06"/>
<circle cx="600.6" cy="545.7" r="2.55" fill="#826E06"/>
<circle cx="593.6" cy="551.0" r="2.55" fill="#826E06"/>
<circle cx="606.0" cy="552.1" r="2.55" fill="#826E06"/>
<circle cx="612.9" cy="550.5" r="2.55" fill="#826E06"/>
<circle cx="599.0" cy="540.5" r="2.55" fill="#826E06"/>
<circle cx="602.2" cy="540.5" r="2.55" fill="#826E06"/>
<circle cx="592.0" cy="545.2" r="2.55" fill="#826E06"/>
<circle cx="593.1" cy="550.7" r="2.55" fill="#826E06"/>
<circle cx="595.2" cy="551.3" r="2.55" fill="#826E06"/>
<circle cx="590.9" cy="559.3" r="2.55" fill="#826E06"/>
<circle cx="597.4" cy="557.7" r="2.55" fill="#826E06"/>
<circle cx="602.2" cy="557.2" r="2.55" fill="#826E06"/>
<circle cx="606.5" cy="560.9" r="2.55" fill="#826E06"/>
<circle cx="612.9" cy="561.5" r="2.55" fill="#826E06"/>
<circle cx="618.9" cy="558.5" r="2.55" fill="#826E06"/>
<circle cx="594.7" cy="562.0" r="2.55" fill="#826E06"/>
<circle cx="587.7" cy="564.7" r="2.55" fill="#826E06"/>
<circle cx="616.7" cy="568.8" r="2.55" fill="#826E06"/>
<circle cx="589.9" cy="572.0" r="2.55" fill="#826E06"/>
<circle cx="619.9" cy="574.4" r="2.55" fill="#826E06"/>
<circle cx="596.3" cy="580.8" r="2.55" fill="#826E06"/>
<circle cx="598.8" cy="579.9" r="2.55" fill="#826E06"/>
<circle cx="604.9" cy="578.4" r="2.55" fill="#826E06"/>
<circle cx="619.4" cy="584.6" r="2.55" fill="#826E06"/>
<circle cx="597.4" cy="591.3" r="2.55" fill="#826E06"/>
<circle cx="610.6" cy="591.3" r="2.55" fill="#826E06"/>
<circle cx="613.5" cy="591.3" r="2.55" fill="#826E06"/>
<circle cx="593.6" cy="602.1" r="2.55" fill="#826E06"/>
<line x1="604.14" y1="628.80" x2="604.14" y2="632.00" stroke="#2e2e2e" stroke-width="1.4" />
<text x="604.14" y="644.30" font-size="13.3" text-anchor="middle" fill="#1a1a1a" >Proliferation</text>
<text x="109.74" y="446.50" font-size="12.8" text-anchor="middle" fill="#1a1a1a" >ns</text>
<text x="192.14" y="446.20" font-size="12.3" text-anchor="middle" fill="#1a1a1a" >****</text>
<text x="274.54" y="446.50" font-size="12.8" text-anchor="middle" fill="#1a1a1a" >ns</text>
<text x="356.94" y="446.50" font-size="12.8" text-anchor="middle" fill="#1a1a1a" >ns</text>
<text x="439.34" y="446.20" font-size="12.3" text-anchor="middle" fill="#1a1a1a" >***</text>
<text x="521.74" y="446.50" font-size="12.8" text-anchor="middle" fill="#1a1a1a" >ns</text>
<text x="604.14" y="446.20" font-size="12.3" text-anchor="middle" fill="#1a1a1a" >****</text>
<line x1="59.90" y1="523.90" x2="654.20" y2="523.90" stroke="#111" stroke-width="1.6" stroke-dasharray="4.76,4.76"/>
<rect x="665.7" y="0" width="2.3" height="652" fill="#000"/>
</svg></body></html>
